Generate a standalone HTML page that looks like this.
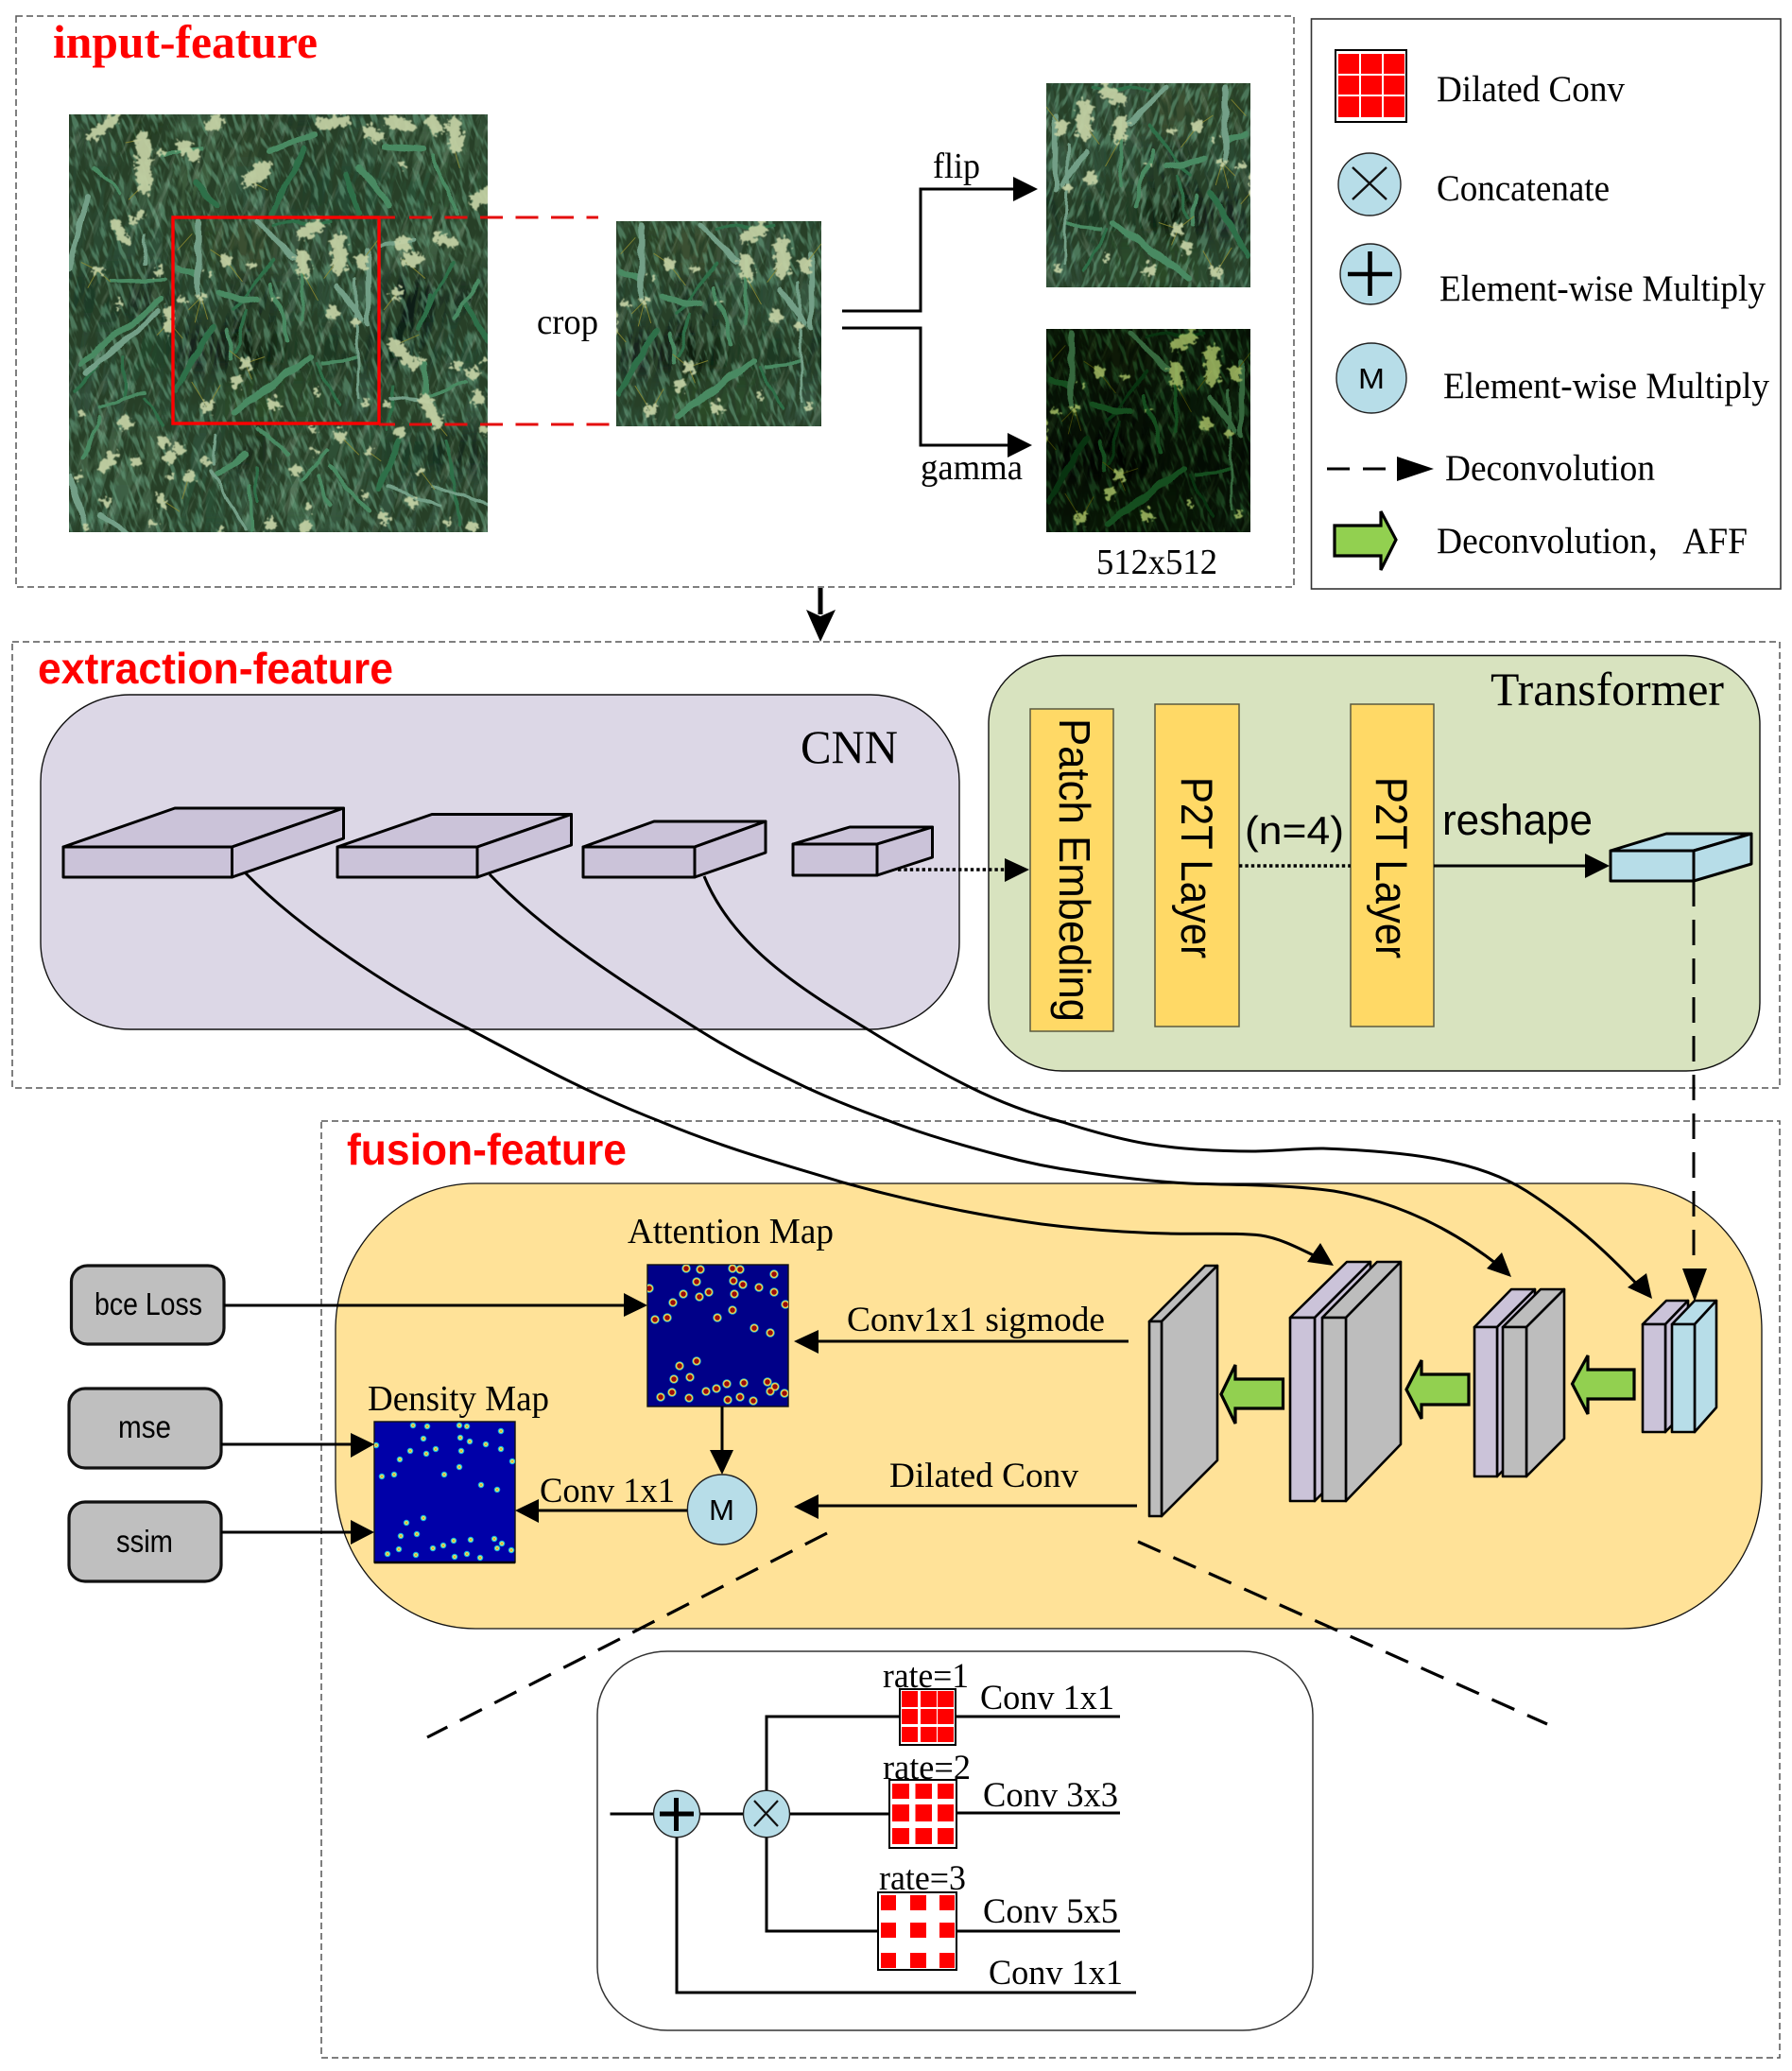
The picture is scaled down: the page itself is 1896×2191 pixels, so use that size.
<!DOCTYPE html>
<html><head><meta charset="utf-8"><title>Network diagram</title>
<style>
html,body{margin:0;padding:0;background:#fff}
svg{display:block}
.s{font-family:"Liberation Serif","Noto Serif CJK SC",serif;fill:#000}
.n{font-family:"Liberation Sans","DejaVu Sans",sans-serif;fill:#000}
.t{fill:#f00;font-weight:bold}
.g rect{width:57px;height:57px}
.box{fill:none;stroke:#555;stroke-width:1.5;stroke-dasharray:7 4}
.l{fill:none;stroke:#000;stroke-width:3}
.cu polygon,.cu rect{stroke:#000;stroke-width:3;stroke-linejoin:round}
.sl polygon,.sl rect{stroke:#000;stroke-width:2.6;stroke-linejoin:round}
.ga{fill:#92d050;stroke:#000;stroke-width:3.2;stroke-linejoin:miter}
.c{fill:#b7dde8;stroke:#222;stroke-width:1.4}
.r{fill:#f00}
</style></head><body>
<svg width="1896" height="2191" viewBox="0 0 1896 2191" xmlns="http://www.w3.org/2000/svg">
<defs>
<filter id="bl" x="-10%" y="-10%" width="120%" height="120%"><feGaussianBlur stdDeviation="11"/></filter>
<filter id="hd" x="-5%" y="-5%" width="110%" height="110%"><feTurbulence type="fractalNoise" baseFrequency=".06" numOctaves="3" seed="5" result="n"/><feDisplacementMap in="SourceGraphic" in2="n" scale="44" xChannelSelector="R" yChannelSelector="G"/><feGaussianBlur stdDeviation="1.8"/></filter>
<filter id="bd" x="-5%" y="-5%" width="110%" height="110%"><feTurbulence type="fractalNoise" baseFrequency=".012" numOctaves="2" seed="9" result="n"/><feDisplacementMap in="SourceGraphic" in2="n" scale="26" xChannelSelector="G" yChannelSelector="R"/><feGaussianBlur stdDeviation="1"/></filter>
<filter id="lt" x="0" y="0" width="100%" height="100%"><feTurbulence type="fractalNoise" baseFrequency=".13 .022" numOctaves="3" seed="7"/><feColorMatrix values="0 0 0 0 .55  0 0 0 0 .72  0 0 0 0 .55  6 0 0 0 -3.5"/></filter>
<filter id="dk" x="0" y="0" width="100%" height="100%"><feTurbulence type="fractalNoise" baseFrequency=".11 .02" numOctaves="3" seed="21"/><feColorMatrix values="0 0 0 0 .02  0 0 0 0 .05  0 0 0 0 .02  0 7 0 0 -3"/></filter>
<filter id="gr" x="0" y="0" width="100%" height="100%"><feTurbulence type="fractalNoise" baseFrequency=".2 .05" numOctaves="2" seed="40"/><feColorMatrix values="0 0 0 0 .16  0 0 0 0 .42  0 0 0 0 .26  0 0 5 0 -2.5"/></filter>
<filter id="gam" x="0" y="0" width="100%" height="100%" color-interpolation-filters="sRGB"><feComponentTransfer><feFuncR type="gamma" exponent="2" amplitude="1.05"/><feFuncG type="gamma" exponent="2" amplitude="1.05"/><feFuncB type="gamma" exponent="2.2" amplitude="1"/></feComponentTransfer></filter>
<clipPath id="wc"><rect width="443" height="442"/></clipPath>
<clipPath id="c2"><rect x="652" y="234" width="217" height="217"/></clipPath>
<clipPath id="c3"><rect x="1107" y="88" width="216" height="216"/></clipPath>
<clipPath id="c4"><rect x="1107" y="348" width="216" height="215"/></clipPath>
<clipPath id="am"><rect x="685" y="1338" width="149" height="150"/></clipPath>
<clipPath id="dm"><rect x="396" y="1504" width="149" height="149"/></clipPath>
<g id="wheat"><g clip-path="url(#wc)">
<rect x="-20" y="-20" width="490" height="490" fill="#263f2b"/>
<g class="g" filter="url(#bl)">
<rect x="0" y="0" fill="#2f4a33"/><rect x="55" y="0" fill="#24381f"/><rect x="110" y="0" fill="#3a5a3d"/><rect x="165" y="0" fill="#30482e"/><rect x="220" y="0" fill="#223a26"/><rect x="275" y="0" fill="#2a4a30"/><rect x="330" y="0" fill="#3f5f42"/><rect x="385" y="0" fill="#3a5a3c"/>
<rect x="0" y="55" fill="#2a4a33"/><rect x="55" y="55" fill="#38583c"/><rect x="110" y="55" fill="#3a5a3a"/><rect x="165" y="55" fill="#2f4f38"/><rect x="220" y="55" fill="#22402a"/><rect x="275" y="55" fill="#254a30"/><rect x="330" y="55" fill="#2a4f35"/><rect x="385" y="55" fill="#2f4f30"/>
<rect x="0" y="110" fill="#2a4a33"/><rect x="55" y="110" fill="#2f4f38"/><rect x="110" y="110" fill="#2a4228"/><rect x="165" y="110" fill="#3a4f32"/><rect x="220" y="110" fill="#38523c"/><rect x="275" y="110" fill="#2a4a30"/><rect x="330" y="110" fill="#3f5f42"/><rect x="385" y="110" fill="#3a5a3c"/>
<rect x="0" y="165" fill="#1f3a28"/><rect x="55" y="165" fill="#1a2f20"/><rect x="110" y="165" fill="#2a4a30"/><rect x="165" y="165" fill="#1c3020"/><rect x="220" y="165" fill="#2a4a30"/><rect x="275" y="165" fill="#36543c"/><rect x="330" y="165" fill="#0f1f12"/><rect x="385" y="165" fill="#1a3020"/>
<rect x="0" y="220" fill="#2a4a33"/><rect x="55" y="220" fill="#24442c"/><rect x="110" y="220" fill="#14241a"/><rect x="165" y="220" fill="#0c1a0e"/><rect x="220" y="220" fill="#1f3a24"/><rect x="275" y="220" fill="#1f3622"/><rect x="330" y="220" fill="#0f2014"/><rect x="385" y="220" fill="#254a30"/>
<rect x="0" y="275" fill="#30503a"/><rect x="55" y="275" fill="#2a4a30"/><rect x="110" y="275" fill="#2a4a30"/><rect x="165" y="275" fill="#2a4a28"/><rect x="220" y="275" fill="#2a4a2c"/><rect x="275" y="275" fill="#30503a"/><rect x="330" y="275" fill="#3a5a3c"/><rect x="385" y="275" fill="#36543c"/>
<rect x="0" y="330" fill="#3f5f42"/><rect x="55" y="330" fill="#3a5a3c"/><rect x="110" y="330" fill="#2f4f38"/><rect x="165" y="330" fill="#1a2e1c"/><rect x="220" y="330" fill="#304f35"/><rect x="275" y="330" fill="#2f5035"/><rect x="330" y="330" fill="#1f3a26"/><rect x="385" y="330" fill="#142a1c"/>
<rect x="0" y="385" fill="#3a5f44"/><rect x="55" y="385" fill="#3f6045"/><rect x="110" y="385" fill="#2a5035"/><rect x="165" y="385" fill="#36543c"/><rect x="220" y="385" fill="#3a5f42"/><rect x="275" y="385" fill="#36543c"/><rect x="330" y="385" fill="#30503a"/><rect x="385" y="385" fill="#36543c"/>
</g>
<g transform="rotate(12 220 220)"><rect x="-120" y="-120" width="680" height="680" filter="url(#dk)"/></g>
<g transform="rotate(-20 220 220)"><rect x="-120" y="-120" width="680" height="680" filter="url(#gr)" opacity=".5"/></g>
<g transform="rotate(22 220 220)"><rect x="-120" y="-120" width="680" height="680" filter="url(#lt)" opacity=".18"/></g>
<g transform="scale(.3333)" fill="none" stroke-linecap="round" stroke-linejoin="round">
<g filter="url(#bd)">
<g stroke="#2f7048">
<path stroke-width="18" d="M750 110L640 310M340 880L460 670M880 190L920 310M1050 1040L980 1190M1260 600L1329 720M400 220L470 290"/>
<path stroke-width="10" d="M520 620L650 460M560 620L530 760M1220 470L1100 680M1150 570L1100 680M780 790L860 920M1200 1040L1240 1300M590 1120L600 1230M240 900L300 980M175 900L175 770M650 350L830 340M20 880L110 780M1010 1000L1030 860"/></g>
<g stroke="#4a8a62">
<path stroke-width="20" d="M40 790L290 590M350 490L400 510M480 570L600 590M920 170L1020 290M1000 100L1120 110M780 60L640 120M760 770L520 950M470 1140L560 1080M1130 800L1130 880"/>
<path stroke-width="12" d="M740 440L740 650M640 540L700 720M500 680L520 780M800 785L910 775M1150 130L1230 320M1300 530L1220 650M1140 890L1260 850M820 1060L740 1160M100 960L50 1090M100 930L240 880M790 1150L830 1240M830 1120L950 1260M575 1180L580 1320M130 530L300 525M300 120L420 110M160 250L80 170M600 1000L700 1080"/></g>
<g stroke="#739f87">
<path stroke-width="18" d="M0 490L60 260M60 820L280 630M410 340L410 570M600 340L710 450M950 430L950 660M0 1150L50 1290M100 1270L190 1329M850 540L930 650"/>
<path stroke-width="10" d="M910 520L920 900M450 1130L560 1320M470 1020L460 1110M1020 900L1150 910M990 415L1100 400M1150 1180L1329 1240M1010 1180L1180 1240M240 380L240 480"/></g>
</g>
<g stroke="#8e8c32" stroke-width="3" opacity=".8">
<path d="M420 580L400 660M420 580L440 650M420 580L380 620M90 495L40 470M90 495L60 550M90 495L130 530M560 790L510 750M560 790L620 770M560 790L580 840M440 930L390 850M440 930L480 860M495 460L450 430M495 460L550 530M855 460L810 520M930 465L980 400M740 500L790 590M345 430L390 380M318 660L280 700M318 660L360 710M1040 730L1110 700M1150 960L1200 1020M860 1020L920 1080M950 1070L990 1100M1115 1130L1160 1190M380 1150L360 1220M290 1220L350 1260M1060 460L1130 520M1040 570L1000 620M230 230L190 270M570 210L630 240M230 80L180 90M1220 100L1240 170"/></g>
<g stroke="#c6d3a6" filter="url(#hd)" opacity=".92">
<path stroke-width="30" d="M70 70L150 10M150 350L175 400M1170 390L1220 410M140 1085L110 1120M290 1220L295 1235M90 495h1M285 500h1M160 600h1M318 620L318 680M210 1100h1M430 1100h1M120 1230h1M1230 800h1"/>
<path stroke-width="46" d="M235 80L240 230M570 210L620 170M1220 30L1230 100M855 400L860 480M930 465h1M180 980h1M1300 900h1M1060 410h1M1080 460L1100 462"/>
<path stroke-width="38" d="M360 100L400 130M450 40L470 20M800 30L870 20M950 50L980 70M1020 20L1080 40M1150 20L1170 50M1290 280L1329 250M495 460h1M740 450L745 500M740 380L790 350M835 630h1M560 790h1M530 850h1M440 930h1M650 920h1M1040 570h1M1030 730L1090 790M1280 820h1M1130 910L1170 980M1050 1010h1M860 1020h1M720 1130h1M300 1040h1M350 1060h1M320 1090h1M380 1150h1M1090 1230h1M1000 1280h1M640 1300h1M750 1310h1M1280 1310h1"/>
<path stroke-width="22" d="M200 340L230 320M360 585h1M420 580h1M445 505h1M580 480h1M660 580h1M910 660h1M780 880h1M940 910h1M1010 920h1M1120 780h1M1320 780h1M1115 1130h1M950 1070h1M770 1000h1M780 1070h1M40 950h1M30 1150h1M320 1150h1M760 1250h1M940 1210h1M1200 1300h1M480 1320h1M50 1310h1M270 1300h1M1060 160h1M290 120h1M1320 1000h1"/></g>
</g>
</g></g>
<path id="pts" d="M726 1342h0M741 1343h0M775 1342h0M783 1343h0M819 1348h0M737 1356h0M776 1355h0M786 1359h0M687 1363h0M803 1362h0M723 1369h0M750 1367h0M740 1372h0M777 1369h0M819 1367h0M712 1378h0M831 1380h0M775 1386h0M693 1396h0M706 1394h0M759 1394h0M798 1405h0M815 1410h0M737 1440h0M719 1445h0M713 1459h0M730 1457h0M769 1464h0M787 1463h0M812 1462h0M758 1469h0M747 1472h0M820 1467h0M815 1472h0M711 1473h0M699 1478h0M729 1479h0M770 1481h0M783 1478h0M797 1482h0M830 1474h0" fill="none" stroke-linecap="round"/>
</defs>

<rect width="1896" height="2191" fill="#fff"/>

<!-- dashed frames -->
<rect class="box" x="17" y="17" width="1352" height="604"/>
<rect class="box" x="13" y="679" width="1870" height="472"/>
<rect class="box" x="340" y="1186" width="1543" height="991"/>

<!-- input feature -->
<text class="s t" x="56" y="61" font-size="50" textLength="280" lengthAdjust="spacingAndGlyphs">input-feature</text>
<use href="#wheat" transform="translate(73,121)"/>
<g clip-path="url(#c2)"><use href="#wheat" transform="translate(542,125)"/></g>
<g clip-path="url(#c3)"><use href="#wheat" transform="translate(1433,-21) scale(-1,1)"/></g>
<g clip-path="url(#c4)"><g filter="url(#gam)"><use href="#wheat" transform="translate(997,239)"/></g></g>
<rect x="183" y="230" width="218" height="218" fill="none" stroke="#f00" stroke-width="3.4"/>
<path d="M401 230H633" fill="none" stroke="#e40c0c" stroke-width="3" stroke-dasharray="17 15 24 13.5 24 13.5 24 13.5 24 13.5 24 13.5 24 13.5"/>
<path d="M401 449H645" fill="none" stroke="#e40c0c" stroke-width="3" stroke-dasharray="17 15 24 13.5 24 13.5 24 13.5 24 13.5 24 13.5 24 13.5"/>
<text class="s" x="568" y="353" font-size="38" textLength="65" lengthAdjust="spacingAndGlyphs">crop</text>
<path class="l" d="M891 329H974V200H1075"/><polygon points="1098,200 1072,187 1072,213"/>
<path class="l" d="M891 347H974V471H1070"/><polygon points="1092,471 1066,458 1066,484"/>
<text class="s" x="987" y="188" font-size="38" textLength="50" lengthAdjust="spacingAndGlyphs">flip</text>
<text class="s" x="974" y="507" font-size="38" textLength="108" lengthAdjust="spacingAndGlyphs">gamma</text>
<text class="s" x="1160" y="607" font-size="38" textLength="128" lengthAdjust="spacingAndGlyphs">512x512</text>

<!-- legend -->
<rect x="1387.5" y="20" width="496.5" height="603" fill="#fff" stroke="#333" stroke-width="1.6"/>
<rect x="1413" y="53" width="75" height="76" fill="#fff" stroke="#000" stroke-width="2"/>
<g class="r"><rect x="1416" y="57" width="22" height="21"/><rect x="1440" y="57" width="22" height="21"/><rect x="1464" y="57" width="22" height="21"/><rect x="1416" y="80" width="22" height="20"/><rect x="1440" y="80" width="22" height="20"/><rect x="1464" y="80" width="22" height="20"/><rect x="1416" y="102" width="22" height="22"/><rect x="1440" y="102" width="22" height="22"/><rect x="1464" y="102" width="22" height="22"/></g>
<text class="s" x="1520" y="107" font-size="39" textLength="199" lengthAdjust="spacingAndGlyphs">Dilated Conv</text>
<circle class="c" cx="1449" cy="195" r="33"/><path d="M1431 177L1467 211M1467 177L1431 211" stroke="#111" stroke-width="2.4"/>
<text class="s" x="1520" y="212" font-size="39" textLength="183" lengthAdjust="spacingAndGlyphs">Concatenate</text>
<circle class="c" cx="1450" cy="290" r="32"/><path d="M1426 290H1473M1449.5 266V313" stroke="#000" stroke-width="4.6"/>
<text class="s" x="1523" y="318" font-size="39" textLength="345" lengthAdjust="spacingAndGlyphs">Element-wise Multiply</text>
<circle class="c" cx="1451" cy="400" r="37"/><text class="n" x="1437" y="411" font-size="31" textLength="28" lengthAdjust="spacingAndGlyphs">M</text>
<text class="s" x="1527" y="421" font-size="39" textLength="345" lengthAdjust="spacingAndGlyphs">Element-wise Multiply</text>
<path d="M1404 496H1428M1442 496H1466" stroke="#000" stroke-width="3"/><polygon points="1517,496 1478,483 1478,509"/>
<text class="s" x="1529" y="508" font-size="39" textLength="222" lengthAdjust="spacingAndGlyphs">Deconvolution</text>
<path class="ga" d="M1412 556H1461V541L1477 571L1461 603V588H1412Z" stroke-width="3.5"/>
<text class="s" x="1520" y="585" font-size="39" textLength="329" lengthAdjust="spacingAndGlyphs">Deconvolution，AFF</text>

<!-- down arrow -->
<path d="M868 622V650" stroke="#000" stroke-width="5"/><polygon points="868,679 853,645 868,652 884,645"/>

<!-- extraction -->
<text class="n t" x="40" y="723" font-size="46" font-weight="bold" textLength="376" lengthAdjust="spacingAndGlyphs" style="fill:#f00">extraction-feature</text>
<rect x="43" y="735" width="972" height="354" rx="94" ry="92" fill="#dcd7e6" stroke="#111" stroke-width="1.4"/>
<text class="s" x="847" y="807" font-size="50" textLength="103" lengthAdjust="spacingAndGlyphs">CNN</text>
<g class="cu" fill="#cbc3d9">
<polygon points="67,896 185,855 363.5,855 245.5,896"/><polygon points="245.5,896 363.5,855 363.5,887 245.5,928"/><rect x="67" y="896" width="178.5" height="32"/>
<polygon points="357,896 457,861.5 604.5,861.5 505,896"/><polygon points="505,896 604.5,861.5 604.5,894 505,928"/><rect x="357" y="896" width="148" height="32"/>
<polygon points="617,896 692,869 810,869 735,896"/><polygon points="735,896 810,869 810,902 735,928"/><rect x="617" y="896" width="118" height="32"/>
<polygon points="839,893 899,875 986.5,875 928,893"/><polygon points="928,893 986.5,875 986.5,907 928,926"/><rect x="839" y="893" width="89" height="33"/>
</g>
<rect x="1046" y="693.5" width="816" height="439.5" rx="78" ry="72" fill="#d8e3bf" stroke="#111" stroke-width="1.4"/>
<text class="s" x="1577" y="746" font-size="50" textLength="247" lengthAdjust="spacingAndGlyphs">Transformer</text>
<g fill="#ffd966" stroke="#5a5a40" stroke-width="1.5">
<rect x="1090" y="750" width="88" height="341"/><rect x="1222" y="745" width="89" height="341"/><rect x="1429" y="745" width="88" height="341"/></g>
<text class="n" transform="translate(1121,760) rotate(90)" font-size="46" textLength="321" lengthAdjust="spacingAndGlyphs">Patch Embeding</text>
<text class="n" transform="translate(1250,822) rotate(90)" font-size="47" textLength="192" lengthAdjust="spacingAndGlyphs">P2T Layer</text>
<text class="n" transform="translate(1456,822) rotate(90)" font-size="47" textLength="192" lengthAdjust="spacingAndGlyphs">P2T Layer</text>
<path d="M950 920H1065" stroke="#000" stroke-width="3.4" stroke-dasharray="3.4 3"/><polygon points="1089,920 1063,908 1063,933"/>
<path d="M1311 916H1429" stroke="#000" stroke-width="3.4" stroke-dasharray="3.4 3"/>
<text class="n" x="1317" y="893" font-size="42" textLength="105" lengthAdjust="spacingAndGlyphs">(n=4)</text>
<path class="l" d="M1517 916H1680"/><polygon points="1703,916 1677,903 1677,929"/>
<text class="n" x="1526" y="883" font-size="45" textLength="159" lengthAdjust="spacingAndGlyphs">reshape</text>
<g class="cu" fill="#b7dde8">
<polygon points="1704,900 1763,882 1853,882 1792,900"/><polygon points="1792,900 1853,882 1853,914 1792,932"/><rect x="1704" y="900" width="88" height="32"/></g>

<!-- fusion -->
<rect x="355" y="1252" width="1509" height="471" rx="148" ry="155" fill="#ffe298" stroke="#111" stroke-width="1.3"/>
<text class="n t" x="367" y="1232" font-size="46" font-weight="bold" textLength="296" lengthAdjust="spacingAndGlyphs" style="fill:#f00">fusion-feature</text>

<!-- dashed vertical -->
<path d="M1792 932V1345" stroke="#000" stroke-width="3" stroke-dasharray="27 14"/>
<polygon points="1793,1377 1780,1342 1806,1342"/>

<!-- curves -->
<path class="l" d="M260 924C320 985 420 1050 497 1089C570 1128 630 1160 700 1187C770 1216 830 1232 892 1251C960 1270 1030 1285 1102 1295C1150 1301 1190 1304 1236 1305C1270 1306 1310 1304 1334 1307C1355 1310 1375 1321 1400 1333"/>
<polygon points="1411,1339 1397,1315 1383,1335"/>
<path class="l" d="M518 925C575 985 660 1040 740 1090C780 1115 815 1132 852 1150C880 1163 910 1175 941 1186C980 1201 1020 1212 1057 1222C1090 1231 1115 1236 1146 1240C1185 1246 1220 1250 1258 1252C1310 1254 1360 1253 1411 1260C1470 1270 1530 1295 1587 1340"/>
<polygon points="1599,1351 1589,1325 1573,1342"/>
<path class="l" d="M745 927C775 1000 845 1045 918 1089C955 1112 990 1132 1026 1150C1058 1166 1090 1178 1124 1187C1155 1197 1185 1205 1213 1210C1250 1216 1290 1218 1325 1218C1350 1218 1375 1215 1400 1215C1480 1218 1560 1225 1615 1260C1670 1295 1710 1335 1738 1365"/>
<polygon points="1748,1374 1742,1347 1722,1362"/>

<!-- slabs -->
<g class="sl" fill="#bdbdbd">
<polygon points="1216,1398 1275,1339 1288,1339 1229,1398"/><polygon points="1229,1398 1288,1339 1288,1545 1229,1604"/><rect x="1216" y="1398" width="13" height="206"/>
</g>
<g class="sl" fill="#cbc3d9">
<polygon points="1365,1394 1425,1335 1450,1335 1391,1394"/><polygon points="1391,1394 1450,1335 1450,1529 1391,1588"/><rect x="1365" y="1394" width="26" height="194"/>
</g>
<g class="sl" fill="#bdbdbd">
<polygon points="1399,1394 1457,1335 1482,1335 1424,1394"/><polygon points="1424,1394 1482,1335 1482,1528 1424,1588"/><rect x="1399" y="1394" width="25" height="194"/>
</g>
<g class="sl" fill="#cbc3d9">
<polygon points="1560,1404 1599,1364 1624,1364 1584,1404"/><polygon points="1584,1404 1624,1364 1624,1522 1584,1562"/><rect x="1560" y="1404" width="24" height="158"/>
</g>
<g class="sl" fill="#bdbdbd">
<polygon points="1590,1404 1630,1364 1655,1364 1615,1404"/><polygon points="1615,1404 1655,1364 1655,1522 1615,1562"/><rect x="1590" y="1404" width="25" height="158"/>
</g>
<g class="sl" fill="#cbc3d9">
<polygon points="1738,1401 1763,1376 1786,1376 1762,1401"/><polygon points="1762,1401 1786,1376 1786,1490 1762,1515"/><rect x="1738" y="1401" width="24" height="114"/>
</g>
<g class="sl" fill="#b7dde8">
<polygon points="1769,1401 1793,1376 1816,1376 1793,1401"/><polygon points="1793,1401 1816,1376 1816,1489 1793,1515"/><rect x="1769" y="1401" width="24" height="114"/>
</g>
<path class="ga" d="M1357.5 1459H1307V1444L1292 1475L1307 1506V1490H1357.5Z"/>
<path class="ga" d="M1554 1454H1504V1439L1488 1470L1504 1501V1486H1554Z"/>
<path class="ga" d="M1729 1449H1680V1434L1663.5 1464L1680 1496V1480H1729Z"/>

<!-- loss boxes -->
<g fill="#bfbfbf" stroke="#111" stroke-width="3.2">
<rect x="75.5" y="1339" width="161.5" height="83" rx="17"/><rect x="73" y="1469" width="161" height="84" rx="17"/><rect x="73" y="1589" width="161" height="84" rx="17"/></g>
<text class="n" x="100" y="1391" font-size="33" textLength="114" lengthAdjust="spacingAndGlyphs">bce Loss</text>
<text class="n" x="125" y="1521" font-size="33" textLength="56" lengthAdjust="spacingAndGlyphs">mse</text>
<text class="n" x="123" y="1642" font-size="33" textLength="60" lengthAdjust="spacingAndGlyphs">ssim</text>
<path class="l" d="M237 1381H665" stroke-width="3.4"/><polygon points="685,1381 660,1368 660,1393"/>
<path class="l" d="M234 1528H375"/><polygon points="396,1528 371,1516 371,1542"/>
<path class="l" d="M234 1621H375"/><polygon points="396,1621 371,1608 371,1634"/>

<!-- maps -->
<rect x="685" y="1338" width="149" height="150" fill="#000088" stroke="#111" stroke-width="1.4"/>
<g clip-path="url(#am)"><use href="#pts" stroke="#20b0d8" stroke-width="9.5"/><use href="#pts" stroke="#f0d850" stroke-width="8"/><use href="#pts" stroke="#9a0a0a" stroke-width="5.5"/></g>
<rect x="396" y="1504" width="149" height="149" fill="#0000a8" stroke="#111" stroke-width="1.4"/>
<g clip-path="url(#dm)"><g transform="translate(-289,166)"><use href="#pts" stroke="#18b8e0" stroke-width="6.5"/><use href="#pts" stroke="#e8e860" stroke-width="4"/><use href="#pts" stroke="#c06020" stroke-width="1.5"/></g></g>
<path d="M396 1653H545" stroke="#000" stroke-width="2.6"/>
<text class="s" x="664" y="1315" font-size="38" textLength="218" lengthAdjust="spacingAndGlyphs">Attention Map</text>
<text class="s" x="389" y="1492" font-size="38" textLength="192" lengthAdjust="spacingAndGlyphs">Density Map</text>
<path class="l" d="M764 1488V1538"/><polygon points="764,1560 751,1534 776,1534"/>
<ellipse class="c" cx="764" cy="1597" rx="36.6" ry="37"/>
<text class="n" x="750" y="1608" font-size="31" textLength="27" lengthAdjust="spacingAndGlyphs">M</text>
<path class="l" d="M727 1598H566"/><polygon points="545,1598 570,1586 570,1611"/>
<text class="s" x="571" y="1589" font-size="37" textLength="143" lengthAdjust="spacingAndGlyphs">Conv 1x1</text>
<path class="l" d="M1194 1419H860"/><polygon points="840,1419 866,1407 866,1432"/>
<text class="s" x="896" y="1408" font-size="37" textLength="273" lengthAdjust="spacingAndGlyphs">Conv1x1 sigmode</text>
<path class="l" d="M1203 1593H860"/><polygon points="840,1594 866,1581 866,1607"/>
<text class="s" x="941" y="1573" font-size="37" textLength="200" lengthAdjust="spacingAndGlyphs">Dilated Conv</text>
<path d="M875 1622L452 1838" stroke="#000" stroke-width="3.2" stroke-dasharray="26 15" fill="none"/>
<path d="M1204 1631L1637 1824" stroke="#000" stroke-width="3.2" stroke-dasharray="26 15" fill="none"/>

<!-- detail panel -->
<rect x="632" y="1747" width="757" height="401" rx="74" ry="67" fill="#fff" stroke="#333" stroke-width="1.5"/>
<path class="l" d="M645.5 1919H942M811 1919V1816H952M811 1919V2043H929M1011 1816H1185M1012 1918H1185M1012 2043H1185M716 1919V2108H1202"/>
<ellipse class="c" cx="716" cy="1919" rx="24.5" ry="24.7"/><path d="M698 1919H734M715.5 1902V1937" stroke="#000" stroke-width="5"/>
<ellipse class="c" cx="811" cy="1919" rx="24.5" ry="24.7"/><path d="M798 1905L823 1932M823 1905L798 1932" stroke="#111" stroke-width="2.2"/>
<rect x="952" y="1787" width="59" height="59" fill="#fff" stroke="#000" stroke-width="2"/>
<g class="r"><rect x="954" y="1789" width="17" height="17"/><rect x="974" y="1789" width="17" height="17"/><rect x="992" y="1789" width="17" height="17"/><rect x="954" y="1808" width="17" height="16"/><rect x="974" y="1808" width="17" height="16"/><rect x="992" y="1808" width="17" height="16"/><rect x="954" y="1827" width="17" height="16"/><rect x="974" y="1827" width="17" height="16"/><rect x="992" y="1827" width="17" height="16"/></g>
<rect x="941" y="1883" width="71" height="72" fill="#fff" stroke="#000" stroke-width="2"/>
<g class="r"><rect x="944" y="1887" width="18" height="16"/><rect x="968.5" y="1887" width="17.5" height="16"/><rect x="992" y="1887" width="17" height="16"/><rect x="944" y="1909" width="18" height="18"/><rect x="968.5" y="1909" width="17.5" height="18"/><rect x="992" y="1909" width="17" height="18"/><rect x="944" y="1934" width="18" height="17"/><rect x="968.5" y="1934" width="17.5" height="17"/><rect x="992" y="1934" width="17" height="17"/></g>
<rect x="929" y="2002" width="83" height="82" fill="#fff" stroke="#000" stroke-width="2"/>
<g class="r"><rect x="932" y="2005" width="16" height="16"/><rect x="963" y="2005" width="17" height="16"/><rect x="994" y="2005" width="16" height="16"/><rect x="932" y="2034" width="16" height="16"/><rect x="963" y="2034" width="17" height="16"/><rect x="994" y="2034" width="16" height="16"/><rect x="932" y="2066" width="16" height="16"/><rect x="963" y="2066" width="17" height="16"/><rect x="994" y="2066" width="16" height="16"/></g>
<text class="s" x="934" y="1785" font-size="37" textLength="91" lengthAdjust="spacingAndGlyphs">rate=1</text>
<text class="s" x="934" y="1882" font-size="37" textLength="93" lengthAdjust="spacingAndGlyphs">rate=2</text>
<text class="s" x="930" y="1999" font-size="37" textLength="92" lengthAdjust="spacingAndGlyphs">rate=3</text>
<text class="s" x="1037" y="1808" font-size="37" textLength="142" lengthAdjust="spacingAndGlyphs">Conv 1x1</text>
<text class="s" x="1040" y="1911" font-size="37" textLength="143" lengthAdjust="spacingAndGlyphs">Conv 3x3</text>
<text class="s" x="1040" y="2034" font-size="37" textLength="143" lengthAdjust="spacingAndGlyphs">Conv 5x5</text>
<text class="s" x="1046" y="2099" font-size="37" textLength="142" lengthAdjust="spacingAndGlyphs">Conv 1x1</text>
</svg>
</body></html>
